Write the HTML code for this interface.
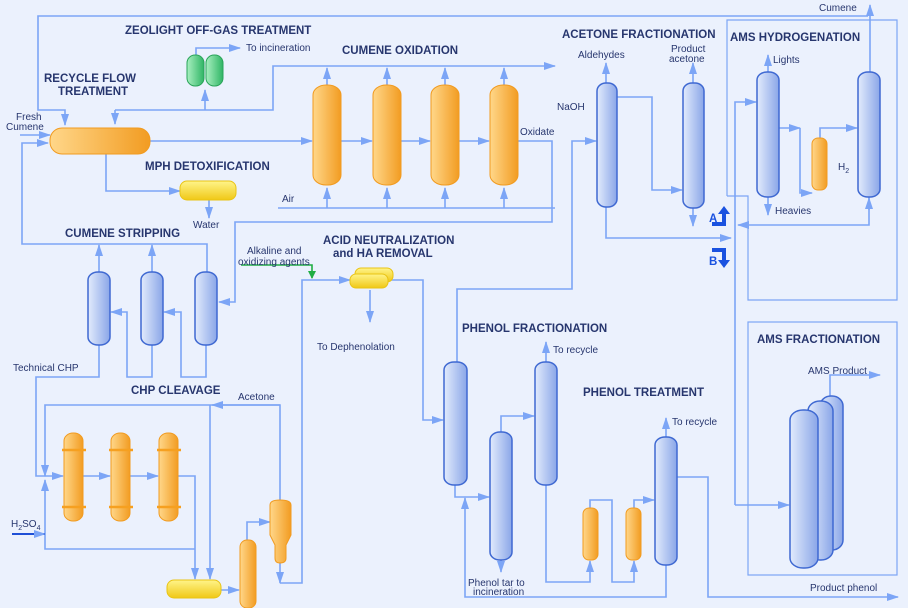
<!DOCTYPE html>
<html><head><meta charset="utf-8"><style>
html,body{margin:0;padding:0;background:#ebf1fd;}
svg{display:block}
text{font-family:"Liberation Sans",sans-serif;fill:#27366e}
.t{font-size:11.5px;font-weight:bold}
.s{font-size:10px}
.l{fill:none;stroke:#7ca5f6;stroke-width:1.6}
.b{fill:url(#gb);stroke:#3f69d2;stroke-width:1.5}
.o{fill:url(#go);stroke:#f19b20;stroke-width:1}
.y{fill:url(#gy);stroke:#e9c414;stroke-width:1}
.g{fill:url(#gg);stroke:#2aa55a;stroke-width:1}
</style></head><body>
<svg width="908" height="608" viewBox="0 0 908 608" xmlns="http://www.w3.org/2000/svg">
<defs>
<linearGradient id="gb" x1="0" x2="1"><stop offset="0" stop-color="#e2ebfc"/><stop offset="1" stop-color="#8aa6e8"/></linearGradient>
<linearGradient id="go" x1="0" x2="1"><stop offset="0" stop-color="#ffd78a"/><stop offset="1" stop-color="#f29c22"/></linearGradient>
<linearGradient id="gy" x1="0" x2="0" y1="0" y2="1"><stop offset="0" stop-color="#fff48a"/><stop offset="1" stop-color="#f0c816"/></linearGradient>
<linearGradient id="gg" x1="0" x2="1"><stop offset="0" stop-color="#a8f0c0"/><stop offset="1" stop-color="#2fb565"/></linearGradient>
<marker id="a" markerWidth="12" markerHeight="8" refX="11" refY="4" orient="auto" markerUnits="userSpaceOnUse"><path d="M0,0 L12,4 L0,8 Z" fill="#7ca5f6"/></marker>
<marker id="ag" markerWidth="8" markerHeight="8" refX="7" refY="4" orient="auto" markerUnits="userSpaceOnUse"><path d="M0,0 L8,4 L0,8 Z" fill="#1fae44"/></marker>
</defs>
<g class="l" marker-end="url(#a)">
<path d="M870,72 V5" />
<path d="M868,16 H38 V110 H65 V125"/>
<path d="M20,135 H50"/>
<path d="M207,275 V244 H22 V143 H48"/>
<path d="M152,275 V245"/><path d="M99,275 V245"/>
<path d="M196,58 V48 H240"/>
<path d="M115,110 H273 V66 H555"/>
<path d="M205,110 V90"/>
<path d="M115,110 V124"/>
<path d="M327,86 V68"/><path d="M387,86 V68"/><path d="M445,86 V68"/><path d="M504,86 V68"/>
<path d="M150,141 H312"/><path d="M341,141 H372"/><path d="M401,141 H430"/><path d="M459,141 H489"/>
<path d="M518,141 H552 V222 H235 V302 H219"/>
<path d="M327,208 V188"/><path d="M387,208 V188"/><path d="M445,208 V188"/><path d="M504,208 V188"/>
<path d="M106,154 V191 H180"/>
<path d="M209,200 V218"/>
<path d="M99,345 V377 H36 V476 H63"/>
<path d="M152,345 V377 H127 V312 H111"/>
<path d="M206,345 V377 H181 V312 H164"/>
<path d="M83,476 H110"/><path d="M130,476 H158"/>
<path d="M178,476 H195 V579"/>
<path d="M195,549 H45 V480"/>
<path d="M12,534 H45" style="stroke:#1f4fd6;stroke-width:2"/>
<path d="M280,500 V405 H45 V476"/>
<path d="M280,405 H212"/>
<path d="M210,405 V579"/>
<path d="M221,590 H239"/>
<path d="M247,540 V522 H270"/>
<path d="M280,563 V583"/>
<path d="M280,583 H302 V280 H350"/>
<path d="M390,280 H423 V420 H443"/>
<path d="M370,290 V322"/>
<path d="M457,362 V289 H572 V141 H596"/>
<path d="M606,83 V63"/><path d="M693,83 V63"/>
<path d="M617,97 H652 V190 H682"/>
<path d="M693,208 V226"/>
<path d="M606,207 V238 H731"/>
<path d="M735,505 V102 H756"/>
<path d="M735,505 H789"/>
<path d="M768,72 V55"/><path d="M768,197 V215"/>
<path d="M779,128 H800"/>
<path d="M800,128 V193 H812"/>
<path d="M820,138 V128 H857"/>
<path d="M869,197 V225 H738"/>
<path d="M869,210 V198"/>
<path d="M830,396 V375 H880"/>
<path d="M455,485 V497 H489"/>
<path d="M501,432 V416 H534"/>
<path d="M546,362 V342"/>
<path d="M501,560 V572"/>
<path d="M546,485 V582 H590 V561"/>
<path d="M590,508 V500 H612 V582 H634 V561"/>
<path d="M634,508 V500 H654"/>
<path d="M666,437 V418"/>
<path d="M666,565 V597 H465 V498"/>
<path d="M677,477 H708 V597 H898"/>
</g>
<g class="l">
<path d="M278,208 H555"/>
<path d="M727,196 V20 H897 V300 H748 V196 H727" style="stroke-width:1.2"/>
<rect x="748" y="322" width="149" height="253" style="stroke-width:1.2"/>
</g>
<path d="M241,265 H312 V278" fill="none" stroke="#1fae44" stroke-width="1.6" marker-end="url(#ag)"/>
<path d="M712,224 H724 V212" fill="none" stroke="#1a52e0" stroke-width="4"/><path d="M718,214 L724,206 L730,214 Z" fill="#1a52e0"/>
<path d="M712,250 H724 V262" fill="none" stroke="#1a52e0" stroke-width="4"/><path d="M718,260 L724,268 L730,260 Z" fill="#1a52e0"/>
<rect class="o" x="50" y="128" width="100" height="26" rx="12"/>
<rect class="g" x="187" y="55" width="17" height="31" rx="8"/><rect class="g" x="206" y="55" width="17" height="31" rx="8"/>
<rect class="o" x="313" y="85" width="28" height="100" rx="13" ry="10"/>
<rect class="o" x="373" y="85" width="28" height="100" rx="13" ry="10"/>
<rect class="o" x="431" y="85" width="28" height="100" rx="13" ry="10"/>
<rect class="o" x="490" y="85" width="28" height="100" rx="13" ry="10"/>
<rect class="y" x="180" y="181" width="56" height="19" rx="7"/>
<rect class="b" x="88" y="272" width="22" height="73" rx="10" ry="8"/>
<rect class="b" x="141" y="272" width="22" height="73" rx="10" ry="8"/>
<rect class="b" x="195" y="272" width="22" height="73" rx="10" ry="8"/>
<g class="o"><rect x="64" y="433" width="19" height="88" rx="9" ry="8"/><rect x="111" y="433" width="19" height="88" rx="9" ry="8"/><rect x="159" y="433" width="19" height="88" rx="9" ry="8"/></g>
<g fill="none" stroke="#f6a020" stroke-width="2.5"><path d="M62,450 H86 M62,507 H86 M109,450 H133 M109,507 H133 M157,450 H181 M157,507 H181"/></g>
<rect class="y" x="167" y="580" width="54" height="18" rx="7"/>
<rect class="o" x="240" y="540" width="16" height="68" rx="7"/>
<path class="o" d="M270,505 Q270,500 280,500 Q291,500 291,505 V535 L286,545 V558 Q286,563 280,563 Q275,563 275,558 V545 L270,535 Z"/>
<rect class="y" x="355" y="268" width="38" height="14" rx="6"/>
<rect class="y" x="350" y="274" width="38" height="14" rx="6"/>
<rect class="b" x="597" y="83" width="20" height="124" rx="9" ry="8"/>
<rect class="b" x="683" y="83" width="21" height="125" rx="9" ry="8"/>
<rect class="b" x="757" y="72" width="22" height="125" rx="10" ry="8"/>
<rect class="o" x="812" y="138" width="15" height="52" rx="6"/>
<rect class="b" x="858" y="72" width="22" height="125" rx="10" ry="8"/>
<rect class="b" x="820" y="396" width="23" height="154" rx="11" ry="10"/>
<rect class="b" x="808" y="401" width="25" height="159" rx="12" ry="10"/>
<rect class="b" x="790" y="410" width="28" height="158" rx="13" ry="10"/>
<rect class="b" x="444" y="362" width="23" height="123" rx="10" ry="8"/>
<rect class="b" x="490" y="432" width="22" height="128" rx="10" ry="8"/>
<rect class="b" x="535" y="362" width="22" height="123" rx="10" ry="8"/>
<rect class="o" x="583" y="508" width="15" height="52" rx="6"/>
<rect class="o" x="626" y="508" width="15" height="52" rx="6"/>
<rect class="b" x="655" y="437" width="22" height="128" rx="10" ry="8"/>
<text class="t" x="125" y="34">ZEOLIGHT OFF-GAS TREATMENT</text>
<text class="s" x="246" y="51">To incineration</text>
<text class="t" x="342" y="54">CUMENE OXIDATION</text>
<text class="t" x="44" y="82">RECYCLE FLOW</text>
<text class="t" x="58" y="95">TREATMENT</text>
<text class="s" x="16" y="120">Fresh</text><text class="s" x="6" y="130">Cumene</text>
<text class="t" x="145" y="170">MPH DETOXIFICATION</text>
<text class="s" x="193" y="228">Water</text>
<text class="s" x="282" y="202">Air</text>
<text class="s" x="520" y="135">Oxidate</text>
<text class="t" x="65" y="237">CUMENE STRIPPING</text>
<text class="s" x="247" y="254">Alkaline and</text><text class="s" x="238" y="265">oxidizing agents</text>
<text class="t" x="323" y="244">ACID NEUTRALIZATION</text>
<text class="t" x="333" y="257">and HA REMOVAL</text>
<text class="s" x="317" y="350">To Dephenolation</text>
<text class="s" x="13" y="371">Technical CHP</text>
<text class="t" x="131" y="394">CHP CLEAVAGE</text>
<text class="s" x="238" y="400">Acetone</text>
<text class="s" x="11" y="527">H<tspan font-size="7" dy="3">2</tspan><tspan dy="-3">SO</tspan><tspan font-size="7" dy="3">4</tspan></text>
<text class="t" x="562" y="38">ACETONE FRACTIONATION</text>
<text class="s" x="578" y="58">Aldehydes</text>
<text class="s" x="671" y="52">Product</text><text class="s" x="669" y="62">acetone</text>
<text class="s" x="557" y="110">NaOH</text>
<text class="s" x="819" y="11">Cumene</text>
<text class="t" x="730" y="41">AMS HYDROGENATION</text>
<text class="s" x="773" y="63">Lights</text>
<text class="s" x="775" y="214">Heavies</text>
<text class="s" x="838" y="170">H<tspan font-size="7" dy="3">2</tspan></text>
<text class="t" x="709" y="222" style="fill:#1a52e0">A</text>
<text class="t" x="709" y="265" style="fill:#1a52e0">B</text>
<text class="t" x="462" y="332">PHENOL FRACTIONATION</text>
<text class="s" x="553" y="353">To recycle</text>
<text class="t" x="583" y="396">PHENOL TREATMENT</text>
<text class="s" x="672" y="425">To recycle</text>
<text class="t" x="757" y="343">AMS FRACTIONATION</text>
<text class="s" x="808" y="374">AMS Product</text>
<text class="s" x="468" y="586">Phenol tar to</text><text class="s" x="473" y="595">incineration</text>
<text class="s" x="810" y="591">Product phenol</text>
</svg>
</body></html>
